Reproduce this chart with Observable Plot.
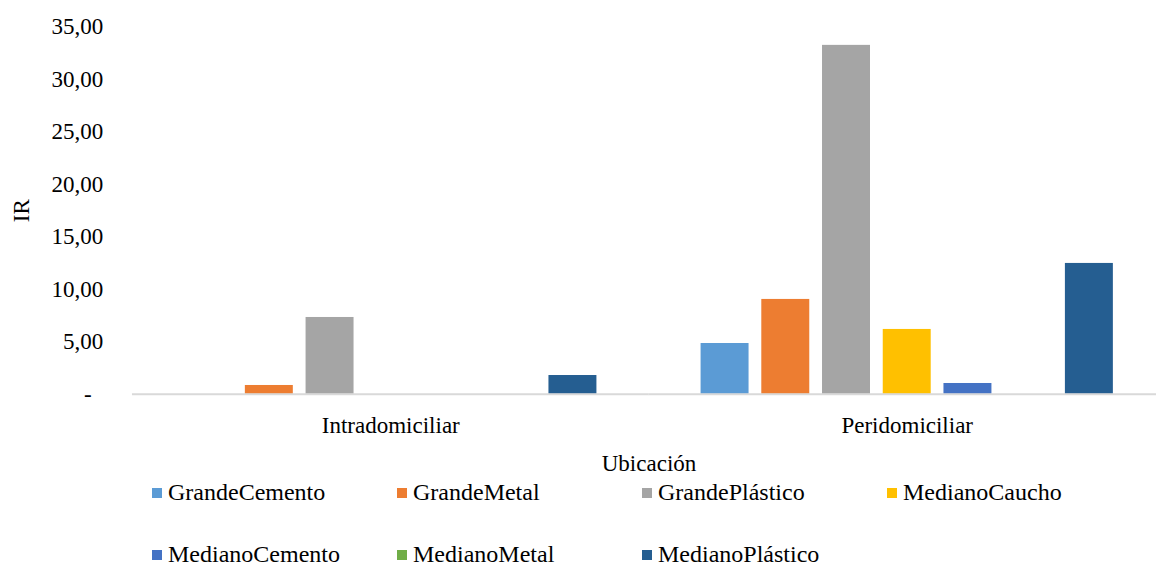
<!DOCTYPE html>
<html>
<head>
<meta charset="utf-8">
<script src="https://cdn.jsdelivr.net/npm/d3@7"></script>
<script src="https://cdn.jsdelivr.net/npm/@observablehq/plot@0.6"></script>
<style>
  html, body { margin: 0; padding: 0; background: #fff; overflow: hidden; }
  #chart { position: relative; width: 1156px; height: 565px; font-family: "Liberation Serif", "Times New Roman", serif; color: #000; }
  #legend {
    display: grid;
    grid-template-columns: repeat(4, 245px);
    grid-auto-rows: 62px;
    margin-left: 152px;
    font-size: 24px;
  }
  .item { display: flex; align-items: flex-start; height: 25px; line-height: 25px; white-space: nowrap; }
  .swatch { width: 10px; height: 10px; margin-top: 8px; margin-right: 6px; flex: none; }
</style>
</head>
<body>
<div id="chart"></div>
<script>
// Location categories on the horizontal axis
const locations = ["Intradomiciliar", "Peridomiciliar"];

// Container type series, in legend order
const series = ["GrandeCemento", "GrandeMetal", "GrandePlástico", "MedianoCaucho", "MedianoCemento", "MedianoMetal", "MedianoPlástico"];
const colors = ["#5b9bd5", "#ed7d31", "#a5a5a5", "#ffc000", "#4472c4", "#70ad47", "#255e91"];

// IR values per series for each location
const intradomiciliar = [0, 0.84, 7.32, 0, 0, 0, 1.79];
const peridomiciliar = [4.84, 9.04, 33.25, 6.18, 1.03, 0, 12.47];

// Y axis ticks
const yTicks = [0, 5, 10, 15, 20, 25, 30, 35];

const rows = [
  ...series.map((s, i) => ({location: locations[0], series: s, value: intradomiciliar[i]})),
  ...series.map((s, i) => ({location: locations[1], series: s, value: peridomiciliar[i]}))
];

// Spanish-style number format; zero shown as a dash
const fmt = d => d === 0 ? "-\u00a0\u00a0" : d.toFixed(2).replace(".", ",");

const plot = Plot.plot({
  width: 1156,
  height: 480,
  marginLeft: 132,
  marginRight: -9,
  marginTop: 26.5,
  marginBottom: 86.2,
  style: {fontFamily: "'Liberation Serif', 'Times New Roman', serif", fontSize: "23px", color: "#000", background: "#fff", overflow: "visible"},
  fx: {
    domain: locations,
    round: false,
    paddingInner: 0.177,
    paddingOuter: 0.0886,
    label: "Ubicación",
    labelAnchor: "center",
    labelOffset: 77,
    labelArrow: "none",
    tickSize: 0,
    tickPadding: 22
  },
  x: {domain: series, round: false, paddingInner: 0.21, paddingOuter: 0.105, axis: null},
  y: {
    domain: [0, 35],
    ticks: yTicks,
    tickFormat: fmt,
    tickSize: 0,
    tickPadding: 75,
    label: "IR",
    labelAnchor: "center",
    labelArrow: "none",
    labelOffset: 166
  },
  color: {domain: series, range: colors},
  marks: [
    Plot.barY(rows, {fx: "location", x: "series", y: "value", fill: "series"}),
    // horizontal category axis line, stretched across the gaps between groups
    Plot.ruleY([0], {stroke: "#d9d9d9", strokeWidth: 2, insetLeft: -45.8, insetRight: -45.8})
  ]
});

const root = document.getElementById("chart");
root.appendChild(plot);

// Legend below the plot, two rows of four columns
const legend = d3.select(root).append("div").attr("id", "legend");
const items = legend.selectAll("div").data(series).join("div").attr("class", "item");
items.append("span").attr("class", "swatch").style("background", (d, i) => colors[i]);
items.append("span").text(d => d);
</script>
</body>
</html>
